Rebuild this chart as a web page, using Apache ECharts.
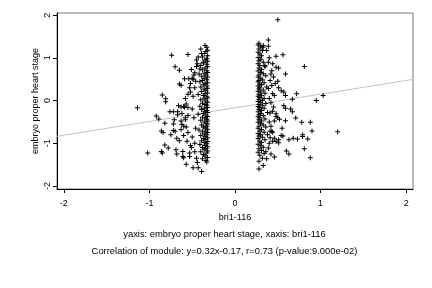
<!DOCTYPE html>
<html><head><meta charset="utf-8">
<script src="https://cdn.jsdelivr.net/npm/echarts@6/dist/echarts.min.js"></script>
<style>html,body{margin:0;padding:0;background:#fff}#c{width:432px;height:288px}</style>
</head><body><div id="c"></div>
<script>
const xTicks = [-2, -1, 0, 1, 2];
const yTicks = [-2, -1, 0, 1, 2];
const xLabel = 'bri1-116';
const yLabel = 'embryo proper heart stage';
const subtitle1 = 'yaxis: embryo proper heart stage, xaxis: bri1-116';
const subtitle2 = 'Correlation of module: y=0.32x-0.17, r=0.73 (p-value:9.000e-02)';
const fitSlope = 0.32;
const fitIntercept = -0.17;

const leftScatter = [[-0.74,1.06],[-0.55,1.08],[-0.40,1.21],[-0.35,1.29],[-0.70,0.79],[-0.65,0.71],[-0.44,0.86],[-0.37,0.90],[-0.51,0.73],[-0.41,0.74],[-0.59,0.51],[-0.54,0.51],[-0.50,0.52],[-0.65,0.39],[-0.63,0.36],[-0.85,0.13],[-0.81,0.04],[-0.81,-0.03],[-1.14,-0.17],[-0.63,-0.15],[-0.59,-0.15],[-0.55,-0.16],[-0.52,0.20],[-0.49,0.10],[-0.47,0.30],[-0.46,0.45],[-0.48,0.60],
[-0.72,-0.26],[-0.76,-0.26],[-0.67,-0.26],[-0.67,-0.33],[-0.92,-0.36],[-0.89,-0.43],[-0.71,-0.45],[-0.82,-0.53],[-0.72,-0.55],[-0.86,-0.71],[-0.84,-0.75],[-0.72,-0.70],[-0.70,-0.72],[-0.75,-0.80],[-0.63,-0.68],[-0.62,-0.56],[-0.60,-0.60],[-0.68,-0.88],[-0.65,-0.94],[-0.82,-1.04],[-0.78,-1.11],[-0.86,-1.19],[-0.85,-1.23],[-1.02,-1.23],[-0.69,-1.15],[-0.68,-1.25],[-0.61,-1.19],[-0.61,-1.31],[-0.53,-1.23],[-0.53,-1.31],[-0.57,-1.49],[-0.49,-1.57],[-0.43,-1.57],[-0.39,-1.66],[-0.60,-1.34],[-0.55,-0.35],[-0.58,-0.45],[-0.50,-0.85],[-0.47,-1.00],[-0.52,-1.05],[-0.45,-1.35],[-0.48,-0.40],[-0.50,-0.20],[-0.46,-0.65],
[-0.66,-0.12],[-0.60,-0.14],[-0.57,-0.08],[-0.62,-0.30],[-0.58,-0.40],[-0.63,-0.48],[-0.57,-0.62],[-0.55,-0.75],[-0.60,-0.82],[-0.56,-0.95],[-0.51,-1.10],[-0.47,-1.20],[-0.44,-1.45],[-0.58,0.05],[-0.55,0.15],[-0.53,0.30],[-0.52,0.40],[-0.49,0.50],[-0.47,0.65],[-0.45,0.80],[-0.45,0.95],[-0.43,1.02],[-0.39,1.10]];

const leftStripe = [[-0.33,1.25],[-0.32,1.18],[-0.34,1.15],[-0.36,1.10],[-0.32,1.05],[-0.38,1.02],[-0.33,0.98],
[-0.35,0.95],[-0.32,0.92],[-0.37,0.88],[-0.33,0.85],[-0.40,0.82],[-0.32,0.79],[-0.35,0.76],[-0.38,0.72],[-0.33,0.70],[-0.32,0.66],[-0.36,0.64],[-0.42,0.62],[-0.34,0.60],[-0.39,0.57],[-0.32,0.55],[-0.36,0.52],
[-0.33,0.49],[-0.38,0.47],[-0.41,0.44],[-0.32,0.42],[-0.35,0.40],[-0.37,0.37],[-0.33,0.34],[-0.40,0.32],[-0.32,0.29],[-0.36,0.27],[-0.34,0.24],[-0.39,0.21],[-0.32,0.18],[-0.35,0.16],[-0.43,0.14],[-0.37,0.12],[-0.33,0.09],[-0.32,0.06],[-0.36,0.04],[-0.40,0.02],
[-0.34,-0.01],[-0.32,-0.04],[-0.38,-0.06],[-0.35,-0.09],[-0.33,-0.11],[-0.41,-0.13],[-0.32,-0.16],[-0.36,-0.18],[-0.39,-0.21],[-0.33,-0.23],[-0.35,-0.26],[-0.32,-0.28],[-0.37,-0.30],[-0.43,-0.32],[-0.34,-0.34],[-0.32,-0.37],[-0.38,-0.39],[-0.35,-0.41],[-0.33,-0.44],[-0.40,-0.46],[-0.32,-0.48],
[-0.36,-0.50],[-0.34,-0.53],[-0.32,-0.55],[-0.39,-0.57],[-0.33,-0.60],[-0.37,-0.62],[-0.35,-0.64],[-0.32,-0.67],[-0.42,-0.69],[-0.34,-0.71],[-0.38,-0.73],[-0.32,-0.75],[-0.36,-0.78],[-0.33,-0.80],[-0.40,-0.82],[-0.35,-0.84],[-0.32,-0.87],[-0.37,-0.89],[-0.34,-0.91],[-0.39,-0.94],[-0.32,-0.96],[-0.36,-0.98],
[-0.33,-1.01],[-0.41,-1.03],[-0.35,-1.05],[-0.32,-1.08],[-0.38,-1.10],[-0.34,-1.12],[-0.36,-1.15],[-0.32,-1.18],[-0.40,-1.20],[-0.33,-1.23],[-0.37,-1.26],[-0.35,-1.30],[-0.32,-1.33],[-0.38,-1.36],[-0.34,-1.40],[-0.33,-1.44]];

const rightScatter = [[0.50,1.89],[0.39,1.42],[0.33,1.29],[0.39,1.27],[0.48,1.04],[0.56,1.07],[0.81,0.80],[0.44,0.86],[0.48,0.78],[0.51,0.76],[0.59,0.62],[0.51,0.30],[0.54,0.23],[0.57,0.20],[0.59,0.12],[0.72,0.16],[1.03,0.12],[0.95,0.00],[0.67,0.03],[0.46,0.12],[0.44,0.16],[0.57,-0.12],[0.59,-0.18],[0.65,-0.20],[0.67,-0.26],[0.71,-0.41],[0.78,-0.51],[0.88,-0.51],[0.90,-0.71],[1.20,-0.73],[0.79,-0.80],[0.79,-0.84],[0.68,-0.88],[0.73,-0.90],[0.63,-0.92],[0.85,-0.90],[0.55,-0.65],[0.56,-0.83],[0.46,-0.88],[0.51,-0.92],[0.59,-0.47],[0.81,-1.13],[0.60,-1.18],[0.63,-1.25],[0.88,-1.34],[0.46,-1.32],[0.37,-1.36],[0.33,-1.52],[0.28,-1.60],[0.41,-0.87],[0.44,-0.95],[0.48,-0.95],[0.51,-0.99],[0.39,-1.11],[0.43,-0.72],[0.44,-0.74],[0.41,-0.72],[0.48,-0.37],[0.50,-0.40],[0.52,-0.44],[0.46,-0.48],[0.41,-0.29],[0.44,-0.25],[0.48,-0.31],[0.54,-0.82],
[0.39,0.90],[0.35,0.82],[0.41,0.47],[0.43,0.35],[0.39,0.28],[0.37,1.17],[0.33,1.25],[0.45,0.55],[0.42,0.62],[0.40,1.00],[0.43,0.70],[0.47,0.40],[0.50,0.45],[0.40,0.05],[0.42,-0.05],[0.45,-0.15],[0.40,-0.50],[0.42,-0.60],[0.38,-0.80],[0.40,-1.00],[0.36,-1.20],[0.42,-1.25]];

const rightStripe = [[0.28,1.34],[0.27,1.30],[0.30,1.26],[0.28,1.21],[0.32,1.17],[0.27,1.13],[0.29,1.09],[0.31,1.05],[0.27,1.01],
[0.30,0.97],[0.28,0.93],[0.33,0.90],[0.27,0.86],[0.29,0.82],[0.35,0.79],[0.28,0.76],[0.31,0.73],[0.27,0.69],[0.30,0.66],[0.33,0.63],[0.28,0.60],[0.36,0.58],[0.27,0.55],[0.30,0.52],
[0.32,0.49],[0.28,0.47],[0.27,0.44],[0.34,0.42],[0.29,0.39],[0.31,0.37],[0.27,0.34],[0.37,0.32],[0.29,0.30],[0.28,0.27],[0.33,0.25],[0.27,0.22],[0.30,0.20],[0.35,0.17],[0.28,0.15],[0.31,0.12],[0.27,0.10],[0.29,0.07],[0.34,0.05],[0.28,0.03],[0.32,0.01],
[0.27,-0.02],[0.30,-0.04],[0.36,-0.07],[0.28,-0.09],[0.32,-0.11],[0.27,-0.14],[0.29,-0.16],[0.34,-0.18],[0.28,-0.21],[0.31,-0.23],[0.27,-0.26],[0.38,-0.28],[0.30,-0.30],[0.28,-0.33],[0.33,-0.35],[0.27,-0.38],[0.29,-0.40],[0.35,-0.43],[0.28,-0.45],[0.31,-0.48],
[0.27,-0.51],[0.30,-0.54],[0.33,-0.57],[0.28,-0.60],[0.36,-0.62],[0.27,-0.65],[0.31,-0.68],[0.29,-0.71],[0.34,-0.74],[0.27,-0.77],[0.30,-0.80],[0.28,-0.83],[0.32,-0.86],[0.27,-0.89],[0.35,-0.92],[0.29,-0.95],[0.31,-0.98],
[0.27,-1.02],[0.30,-1.06],[0.33,-1.09],[0.28,-1.13],[0.31,-1.17],[0.27,-1.21],[0.34,-1.24],[0.29,-1.28],[0.32,-1.35],[0.28,-1.42]];

const X_MIN = -2.08, X_MAX = 2.08, Y_MIN = -2.07, Y_MAX = 2.05;
const FONT = 'Liberation Sans';
const plus = 'path://M2,0H3V2H5V3H3V5H2V3H0V2H2Z';
const points = leftScatter.concat(leftStripe, rightScatter, rightStripe);
const fitLine = [[X_MIN, fitSlope * X_MIN + fitIntercept], [X_MAX, fitSlope * X_MAX + fitIntercept]];

const chart = echarts.init(document.getElementById('c'), null, {renderer: 'canvas'});
chart.setOption({
  animation: false,
  backgroundColor: '#fff',
  textStyle: {fontFamily: FONT},
  grid: {left: 57, right: 19, top: 13, bottom: 99, show: true, borderColor: '#777', borderWidth: 1},
  title: [
    {text: subtitle1, left: 224.5, top: 230, textAlign: 'center', padding: 0,
     textStyle: {fontSize: 9.4, fontWeight: 'normal', color: '#000', fontFamily: FONT}},
    {text: subtitle2, left: 224.5, top: 247, textAlign: 'center', padding: 0,
     textStyle: {fontSize: 9.4, fontWeight: 'normal', color: '#000', fontFamily: FONT}}
  ],
  xAxis: {
    type: 'value', min: X_MIN, max: X_MAX,
    name: xLabel, nameLocation: 'middle', nameGap: 24, nameMoveOverlap: false,
    nameTextStyle: {fontSize: 9, color: '#000', fontFamily: FONT},
    axisLine: {show: true, onZero: false, lineStyle: {color: '#000', width: 1}},
    axisTick: {show: true, length: 4, customValues: xTicks, lineStyle: {color: '#000'}},
    axisLabel: {customValues: xTicks, fontSize: 9, color: '#000', margin: 10, fontFamily: FONT},
    splitLine: {show: false}
  },
  yAxis: {
    type: 'value', min: Y_MIN, max: Y_MAX,
    name: yLabel, nameLocation: 'middle', nameGap: 17, nameMoveOverlap: false,
    nameTextStyle: {fontSize: 9, color: '#000', fontFamily: FONT},
    axisLine: {show: true, onZero: false, lineStyle: {color: '#000', width: 1}},
    axisTick: {show: true, length: 4, customValues: yTicks, lineStyle: {color: '#000'}},
    axisLabel: {customValues: yTicks, fontSize: 9, color: '#000', margin: 5, rotate: 90, fontFamily: FONT},
    splitLine: {show: false}
  },
  series: [
    {type: 'line', data: fitLine, symbol: 'none', silent: true,
     lineStyle: {color: '#c4c4c4', width: 1}, z: 1},
    {type: 'scatter', data: points, symbol: plus, symbolSize: 5,
     itemStyle: {color: '#000', opacity: 1}, z: 2}
  ]
});
</script></body></html>
